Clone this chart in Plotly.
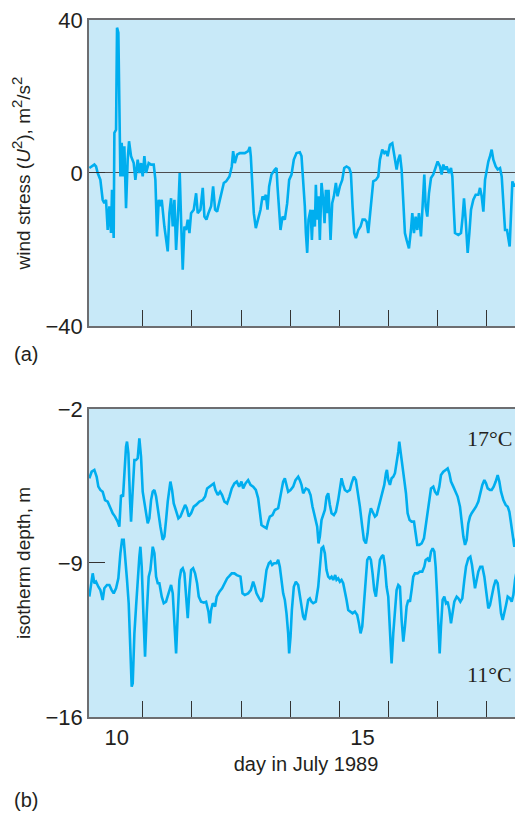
import plotly.graph_objects as go

# ---------------- data ----------------
# (a) wind stress U^2 (m2/s2) vs day in July 1989
wind_day = [9.915, 10.017, 10.051, 10.085, 10.139, 10.186, 10.220, 10.254, 10.288, 10.322,
            10.356, 10.376, 10.410, 10.424, 10.458, 10.478, 10.505, 10.525, 10.546, 10.573,
            10.600, 10.627, 10.661, 10.695, 10.722, 10.763, 10.817, 10.851, 10.898, 10.932,
            10.966, 11.000, 11.034, 11.068, 11.122, 11.170, 11.224, 11.258, 11.292, 11.326,
            11.360, 11.387, 11.441, 11.509, 11.543, 11.577, 11.611, 11.645, 11.679, 11.726,
            11.753, 11.780, 11.814, 11.848, 11.882, 11.916, 11.950, 11.984, 12.038, 12.086,
            12.119, 12.174, 12.221, 12.255, 12.296, 12.337, 12.391, 12.432, 12.472, 12.513,
            12.561, 12.608, 12.649, 12.696, 12.764, 12.811,
            12.839, 12.873, 12.920, 12.975, 13.076, 13.144, 13.178, 13.198, 13.232, 13.259,
            13.300, 13.348, 13.395, 13.436, 13.470, 13.504, 13.538, 13.571, 13.619, 13.687,
            13.721, 13.741, 13.775, 13.802, 13.843, 13.890, 13.938, 13.978, 14.026, 14.073,
            14.128, 14.195, 14.229, 14.263, 14.297, 14.318, 14.345, 14.372, 14.413, 14.440,
            14.467, 14.501, 14.521, 14.548, 14.575, 14.602, 14.636, 14.670, 14.698, 14.725,
            14.752, 14.779, 14.820, 14.853, 14.887, 14.928, 14.962, 15.009, 15.057, 15.098,
            15.145, 15.199, 15.233, 15.267, 15.301, 15.335, 15.383, 15.430, 15.471, 15.518,
            15.552, 15.586, 15.620, 15.654, 15.688, 15.742, 15.790,
            15.824, 15.871, 15.912, 15.946, 15.980, 16.027, 16.075, 16.115, 16.163, 16.197,
            16.231, 16.265, 16.299, 16.332, 16.366, 16.414, 16.455, 16.482, 16.516, 16.550,
            16.583, 16.617, 16.658, 16.692, 16.726, 16.753, 16.787, 16.821, 16.862, 16.909,
            16.957, 16.997, 17.045, 17.079, 17.113, 17.147, 17.180, 17.228, 17.269, 17.296,
            17.323, 17.350, 17.418, 17.472, 17.506, 17.533, 17.567, 17.608, 17.642, 17.676,
            17.723, 17.771, 17.825, 17.859, 17.893, 17.927, 17.961, 17.994, 18.028, 18.062,
            18.096, 18.130, 18.178, 18.218, 18.266, 18.300, 18.334, 18.368, 18.408, 18.435,
            18.462, 18.490, 18.517, 18.557, 18.605, 18.639, 18.679, 18.707, 18.734]
wind_stress = [1.3, 2.2, 1.7, 0.0, -1.8, -7.0, -7.9, -7.0, -14.9, -8.7,
               -15.7, -4.4, -17.0, 10.5, 11.3, 38.0, 36.7, 16.6, -0.9, 7.9,
               -0.9, 7.0, -9.2, 3.5, 8.3, 4.4, 2.6, -1.8, 3.5, 0.0,
               2.6, -0.9, 4.4, 0.0, 2.6, 2.2, 2.2, -1.8, -16.6, -7.0,
               -8.7, -7.0, -14.0, -20.5, -10.5, -6.6, -14.0, -7.0, -20.1, -8.7,
               0.0, -12.2, -25.3, -14.0, -14.9, -12.2, -15.7, -10.5, -9.6, -5.3,
               -10.5, -9.6, -3.9, -11.4, -12.2, -10.5, -8.7, -3.5, -9.6, -10.1,
               -7.4, -5.3, -2.6, -2.2, -0.9, 1.7,
               5.7, 2.6, 4.8, 5.2, 5.2, 5.7, 6.8, 4.4, -3.5, -10.5,
               -14.4, -12.2, -9.6, -6.1, -7.0, -5.7, -9.6, -3.5, -0.4, 0.9,
               1.3, -3.5, -11.4, -14.9, -11.4, -12.2, -7.9, -1.8, -0.4, 3.5,
               5.2, 5.4, 4.4, -1.8, -8.7, -15.7, -20.9, -12.2, -9.6, -17.5,
               -9.6, -14.0, -3.1, -12.2, -6.1, -17.5, -2.6, -7.0, -13.1, -4.4,
               -10.5, -4.4, -17.5, -7.9, -6.1, -2.6, -6.1, -3.5, -1.8, 1.3,
               1.7, 1.3, 0.0, -8.7, -15.7, -17.0, -14.9, -14.0, -12.2, -12.2,
               -12.7, -15.7, -11.4, -5.3, -2.2, -1.8, -0.9,
               3.5, 6.1, 5.2, 5.7, 4.4, 7.4, 7.8, 4.4, 0.9, 3.5,
               4.8, 0.9, -7.9, -15.7, -17.5, -19.7, -14.9, -10.5, -15.7, -11.4,
               -14.9, -10.5, -16.6, -8.7, -0.4, -8.7, -11.4, -5.3, -1.3, -0.4,
               1.7, 3.0, 1.7, -0.4, 2.2, 0.9, 1.7, 0.0, 1.3, -0.9,
               -8.7, -15.7, -16.2, -15.7, -11.4, -6.6, -12.2, -20.9, -15.7, -9.6,
               -7.0, -5.7, -5.7, -3.9, -6.1, -10.1, -1.8, 0.9, 3.0, 4.4,
               6.1, 3.5, 1.7, 0.9, 1.3, -0.9, -8.7, -14.9, -14.9, -16.6,
               -19.2, -10.5, -2.2, -3.5, -2.6, -4.4, -7.0, -1.3, -0.9]

# (b) depth of the 17 C isotherm (m)
iso17_day = [9.915, 9.962, 10.017, 10.064, 10.098, 10.139, 10.186, 10.234, 10.288, 10.342,
             10.390, 10.437, 10.491, 10.525, 10.559, 10.600, 10.627, 10.661, 10.681, 10.709,
             10.742, 10.763, 10.797, 10.831, 10.865, 10.898, 10.932, 10.966, 11.000, 11.048,
             11.102, 11.136, 11.170, 11.204, 11.238, 11.272, 11.306, 11.360, 11.407, 11.441,
             11.475, 11.509, 11.563, 11.597, 11.631, 11.679, 11.726, 11.767, 11.814, 11.862,
             11.896, 11.936, 11.984, 12.038, 12.086, 12.153, 12.221, 12.269, 12.310, 12.357,
             12.404, 12.445, 12.479, 12.527, 12.574, 12.615, 12.662, 12.716, 12.764, 12.811,
             12.865, 12.913,
             12.961, 13.008, 13.042, 13.090, 13.144, 13.192, 13.246, 13.300, 13.348, 13.382,
             13.415, 13.463, 13.517, 13.551, 13.585, 13.639, 13.687, 13.755, 13.788, 13.822,
             13.856, 13.890, 13.924, 13.958, 14.006, 14.060, 14.107, 14.162, 14.195, 14.229,
             14.263, 14.318, 14.372, 14.413, 14.453, 14.501, 14.548, 14.575, 14.602, 14.636,
             14.670, 14.704, 14.738, 14.772, 14.806, 14.840, 14.887, 14.928, 14.975, 15.009,
             15.043, 15.077, 15.111, 15.159, 15.213, 15.247, 15.294, 15.335, 15.369, 15.416,
             15.464, 15.498, 15.539, 15.573, 15.606, 15.640, 15.674, 15.722, 15.756, 15.803,
             15.824, 15.871, 15.912, 15.946, 15.966, 15.993, 16.027, 16.061, 16.095, 16.129,
             16.163, 16.197, 16.217, 16.244, 16.278, 16.319, 16.353, 16.387, 16.427, 16.468,
             16.516, 16.550, 16.583, 16.624, 16.672, 16.719, 16.753, 16.794, 16.828, 16.862,
             16.909, 16.943, 16.991, 17.031, 17.065, 17.113, 17.160, 17.201, 17.235, 17.269,
             17.316, 17.364, 17.404, 17.452, 17.486, 17.520, 17.554, 17.587, 17.621, 17.655,
             17.689, 17.737, 17.777, 17.825, 17.872, 17.906, 17.947, 17.981, 18.015, 18.062,
             18.096, 18.137, 18.178, 18.218, 18.252, 18.286, 18.334, 18.381, 18.422, 18.456,
             18.490, 18.524, 18.557, 18.591, 18.625, 18.659, 18.693, 18.734]
iso17_depth = [-5.15, -4.85, -4.77, -5.08, -5.53, -5.68, -5.76, -6.14, -6.21, -6.51,
               -6.74, -6.89, -7.12, -7.35, -5.91, -5.98, -4.92, -3.71, -3.48, -4.02,
               -6.14, -7.12, -5.68, -4.32, -4.32, -4.24, -3.33, -4.17, -5.76, -6.44,
               -7.20, -6.97, -6.14, -5.76, -5.68, -5.98, -6.59, -7.35, -7.95, -7.80,
               -7.05, -6.21, -5.30, -5.68, -6.29, -6.67, -6.97, -6.89, -6.59, -6.36,
               -6.51, -6.89, -6.74, -6.44, -6.36, -6.21, -6.14, -5.98, -5.61, -5.53,
               -5.45, -5.38, -5.68, -5.91, -5.76, -5.91, -6.21, -6.29, -5.98, -5.61,
               -5.38, -5.30,
               -5.53, -5.30, -5.61, -5.38, -5.23, -5.45, -5.53, -5.68, -6.06, -6.74,
               -7.27, -7.35, -7.42, -7.12, -6.89, -6.82, -6.59, -6.51, -6.14, -5.83,
               -5.30, -5.15, -5.53, -5.76, -5.68, -5.53, -5.23, -5.08, -5.23, -5.45,
               -5.83, -5.61, -5.68, -5.91, -6.44, -6.89, -7.35, -8.11, -7.80, -7.05,
               -6.82, -6.59, -5.98, -5.83, -6.36, -6.74, -6.82, -6.67, -6.14, -5.68,
               -5.15, -5.45, -5.68, -5.76, -5.68, -5.38, -5.08, -5.23, -5.68, -6.44,
               -7.35, -7.95, -8.11, -7.65, -6.89, -6.51, -6.67, -6.89, -6.82, -6.44,
               -6.21, -5.83, -5.45, -4.92, -4.77, -5.23, -5.45, -5.15, -5.08, -4.92,
               -4.47, -3.94, -3.48, -4.02, -4.62, -5.23, -5.83, -6.74, -7.05, -7.12,
               -7.12, -7.65, -8.18, -8.18, -8.11, -7.88, -7.35, -6.59, -5.98, -5.61,
               -5.53, -5.76, -5.91, -5.53, -5.00, -4.85, -4.77, -4.70, -4.92, -5.30,
               -5.53, -5.76, -5.98, -6.44, -7.20, -7.80, -8.18, -7.95, -7.20, -6.89,
               -6.74, -6.59, -6.44, -6.21, -5.76, -5.45, -5.23, -5.38, -5.61, -5.68,
               -5.68, -5.53, -5.30, -5.00, -5.30, -5.76, -6.14, -6.36, -6.44, -6.67,
               -7.20, -7.80, -8.26, -7.95, -7.05, -6.44, -6.21, -6.21]

# (b) depth of the 11 C isotherm (m)
iso11_day = [9.915, 9.949, 9.983, 10.017, 10.051, 10.098, 10.139, 10.186, 10.220, 10.274,
             10.322, 10.369, 10.410, 10.458, 10.505, 10.546, 10.580, 10.614, 10.641, 10.681,
             10.715, 10.749, 10.776, 10.797, 10.831, 10.865, 10.898, 10.932, 10.953, 10.980,
             11.014, 11.048, 11.082, 11.122, 11.156, 11.204, 11.238, 11.272, 11.306, 11.339,
             11.387, 11.428, 11.475, 11.523, 11.577, 11.611, 11.645, 11.679, 11.713, 11.746,
             11.780, 11.814, 11.848, 11.882, 11.916, 11.950, 11.984, 12.025, 12.065, 12.106,
             12.140, 12.187, 12.242, 12.289, 12.337, 12.364, 12.391, 12.425, 12.472, 12.506,
             12.561, 12.615, 12.662, 12.716, 12.764, 12.811, 12.865, 12.913,
             12.988, 13.029, 13.076, 13.144, 13.198, 13.246, 13.280, 13.314, 13.368, 13.415,
             13.449, 13.483, 13.517, 13.565, 13.599, 13.632, 13.673, 13.721, 13.755, 13.788,
             13.822, 13.856, 13.890, 13.924, 13.958, 13.978, 14.006, 14.033, 14.073, 14.114,
             14.162, 14.195, 14.229, 14.263, 14.297, 14.331, 14.365, 14.399, 14.433, 14.467,
             14.521, 14.569, 14.602, 14.636, 14.670, 14.704, 14.738, 14.772, 14.806, 14.840,
             14.874, 14.914, 14.942, 14.975, 15.009, 15.043, 15.077, 15.111, 15.145, 15.179,
             15.227, 15.267, 15.315, 15.362, 15.396, 15.430, 15.464, 15.498, 15.532, 15.566,
             15.606, 15.640, 15.674, 15.708, 15.742, 15.769, 15.810,
             15.824, 15.858, 15.892, 15.926, 15.959, 15.993, 16.027, 16.061, 16.095, 16.129,
             16.163, 16.197, 16.231, 16.265, 16.299, 16.332, 16.366, 16.400, 16.434, 16.468,
             16.502, 16.536, 16.590, 16.638, 16.685, 16.726, 16.753, 16.794, 16.828, 16.862,
             16.896, 16.930, 16.957, 16.984, 17.011, 17.038, 17.065, 17.099, 17.133, 17.167,
             17.201, 17.235, 17.269, 17.302, 17.336, 17.384, 17.418, 17.459, 17.499, 17.540,
             17.574, 17.621, 17.662, 17.696, 17.730, 17.757, 17.791, 17.825, 17.865, 17.906,
             17.947, 17.988, 18.028, 18.062, 18.096, 18.137, 18.178, 18.218, 18.252, 18.286,
             18.320, 18.354, 18.388, 18.422, 18.469, 18.503, 18.537, 18.571, 18.605, 18.639,
             18.679, 18.720]
iso11_depth = [-10.53, -9.92, -9.47, -9.92, -9.85, -10.08, -10.23, -10.68, -10.15, -10.00,
               -10.00, -10.23, -10.38, -10.15, -9.70, -8.56, -7.95, -7.95, -8.86, -9.77,
               -10.83, -13.11, -14.62, -14.47, -12.20, -10.98, -9.62, -8.71, -8.26, -9.17,
               -11.29, -13.26, -11.29, -9.62, -9.32, -8.26, -8.56, -9.62, -9.92, -9.92,
               -10.53, -10.83, -10.76, -10.38, -10.00, -10.38, -11.59, -13.11, -11.29, -9.77,
               -9.32, -9.24, -9.47, -10.38, -11.51, -10.23, -9.32, -9.24, -9.47, -9.92,
               -10.53, -10.76, -10.80, -10.76, -11.21, -11.74, -11.14, -10.83, -10.98, -10.53,
               -10.30, -10.15, -9.92, -9.70, -9.59, -9.47, -9.47, -9.55,
               -9.62, -10.38, -10.45, -10.38, -10.23, -9.85, -10.08, -10.38, -10.61, -10.76,
               -10.53, -9.77, -9.32, -9.01, -8.94, -9.09, -9.01, -9.01, -8.86, -9.17,
               -9.92, -10.38, -10.68, -11.29, -12.20, -13.11, -12.35, -11.14, -10.08, -9.85,
               -10.00, -10.53, -10.98, -11.44, -11.59, -11.14, -10.68, -10.61, -10.76, -10.83,
               -10.76, -10.08, -9.01, -8.33, -8.26, -8.56, -9.32, -9.62, -9.70, -9.62,
               -9.77, -9.55, -9.77, -9.70, -9.85, -9.77, -9.92, -10.23, -10.68, -11.14,
               -11.21, -11.29, -11.21, -11.36, -11.74, -12.20, -11.89, -10.83, -9.77, -8.86,
               -8.71, -8.86, -9.47, -10.23, -10.53, -9.92, -9.01,
               -8.86, -8.71, -8.64, -9.17, -10.08, -10.53, -11.89, -13.56, -12.20, -10.98,
               -10.23, -10.00, -10.08, -11.59, -12.57, -11.89, -10.98, -10.68, -10.76, -10.23,
               -9.62, -9.47, -9.47, -9.39, -9.39, -9.17, -8.86, -8.79, -8.94, -8.48,
               -8.33, -8.48, -9.17, -10.38, -11.89, -13.11, -11.89, -10.68, -10.53, -10.83,
               -10.76, -11.14, -11.74, -11.29, -10.76, -10.53, -10.61, -10.76, -10.61, -9.77,
               -9.17, -8.79, -8.71, -9.09, -9.62, -10.15, -9.77, -9.39, -9.17, -9.17,
               -9.62, -10.45, -11.06, -10.91, -10.45, -10.08, -9.77, -9.92, -10.53, -11.29,
               -11.59, -11.29, -10.91, -10.53, -10.61, -10.76, -10.45, -9.77, -9.24, -8.94,
               -8.86, -9.01]

# axis ticks / labels
day_ticks = [11, 12, 13, 14, 15, 16, 17, 18]          # day boundaries (midnight)
day_labels = ["10", "", "", "", "", "15", "", ""]      # centred on the day before each boundary
wind_ticks = [-40, 0, 40]
depth_ticks = [-16, -9, -2]
x_range = [9.908, 18.733]

# ---------------- styling ----------------
BG = "#C8E9F8"
LINE = "#00AEEF"
TXT = "#231F20"
FONT = "Liberation Sans, Arial, sans-serif"

fig = go.Figure()
fig.add_trace(go.Scatter(x=wind_day, y=wind_stress, mode="lines",
                         line=dict(color=LINE, width=2.6), xaxis="x", yaxis="y",
                         showlegend=False, hoverinfo="skip"))
fig.add_trace(go.Scatter(x=iso17_day, y=iso17_depth, mode="lines",
                         line=dict(color=LINE, width=2.6), xaxis="x2", yaxis="y2",
                         showlegend=False, hoverinfo="skip"))
fig.add_trace(go.Scatter(x=iso11_day, y=iso11_depth, mode="lines",
                         line=dict(color=LINE, width=2.6), xaxis="x2", yaxis="y2",
                         showlegend=False, hoverinfo="skip"))

xcommon = dict(range=x_range, showgrid=False, zeroline=False, showline=True,
               linecolor="#6d6e71", linewidth=1.5, mirror=True,
               tickvals=day_ticks, ticks="inside", ticklen=16, tickwidth=1.2,
               tickcolor="#333333")
ycommon = dict(showgrid=False, showline=True, linecolor="#6d6e71", linewidth=1.5,
               mirror=False, ticks="inside", ticklen=16, tickwidth=1.2,
               tickcolor="#333333", tickfont=dict(size=22, color=TXT, family=FONT),
               ticklabeloverflow="allow",
               title_font=dict(size=19, color=TXT, family=FONT), title_standoff=10)

SUP = "<sup><span style='font-size:15px'>2</span></sup>"

# page body has an 8px margin, so the figure is 8px smaller than the window
fig.update_layout(
    width=515, height=805,
    margin=dict(l=81, r=0, t=12, b=96),
    paper_bgcolor="white", plot_bgcolor=BG,
    font=dict(family=FONT, color=TXT, size=19),
    xaxis=dict(**xcommon, anchor="y", showticklabels=False),
    yaxis=dict(**ycommon, domain=[0.561, 1.0], range=[-40, 40], tickvals=wind_ticks,
               zeroline=True, zerolinecolor="#4d4d4f", zerolinewidth=1.3,
               title_text="wind stress (<i>U</i>" + SUP + "), m" + SUP + "/s" + SUP),
    xaxis2=dict(**xcommon, anchor="y2", ticktext=day_labels, ticklabelshift=-26,
                tickfont=dict(size=22, color=TXT, family=FONT),
                title_text="day in July 1989", title_standoff=8,
                title_font=dict(size=20, color=TXT, family=FONT)),
    yaxis2=dict(**ycommon, domain=[0.0, 0.4419], range=[-16, -2], tickvals=depth_ticks,
                zeroline=False, title_text="isotherm depth, m"),
)

SERIF = "Liberation Serif, Times New Roman, serif"
fig.add_annotation(x=0.979, y=-3.32, xref="paper", yref="y2", text="17°C",
                   showarrow=False, xanchor="right", yanchor="middle",
                   font=dict(family=SERIF, size=22, color=TXT))
fig.add_annotation(x=0.979, y=-14.09, xref="paper", yref="y2", text="11°C",
                   showarrow=False, xanchor="right", yanchor="middle",
                   font=dict(family=SERIF, size=22, color=TXT))
fig.add_annotation(x=-0.177, y=0.561, xref="paper", yref="paper", yshift=-28,
                   text="(a)", showarrow=False, xanchor="left", yanchor="middle",
                   font=dict(size=20, color=TXT, family=FONT))
fig.add_annotation(x=-0.177, y=0.0, xref="paper", yref="paper", yshift=-83,
                   text="(b)", showarrow=False, xanchor="left", yanchor="middle",
                   font=dict(size=20, color=TXT, family=FONT))

fig.write_html("out.html")
